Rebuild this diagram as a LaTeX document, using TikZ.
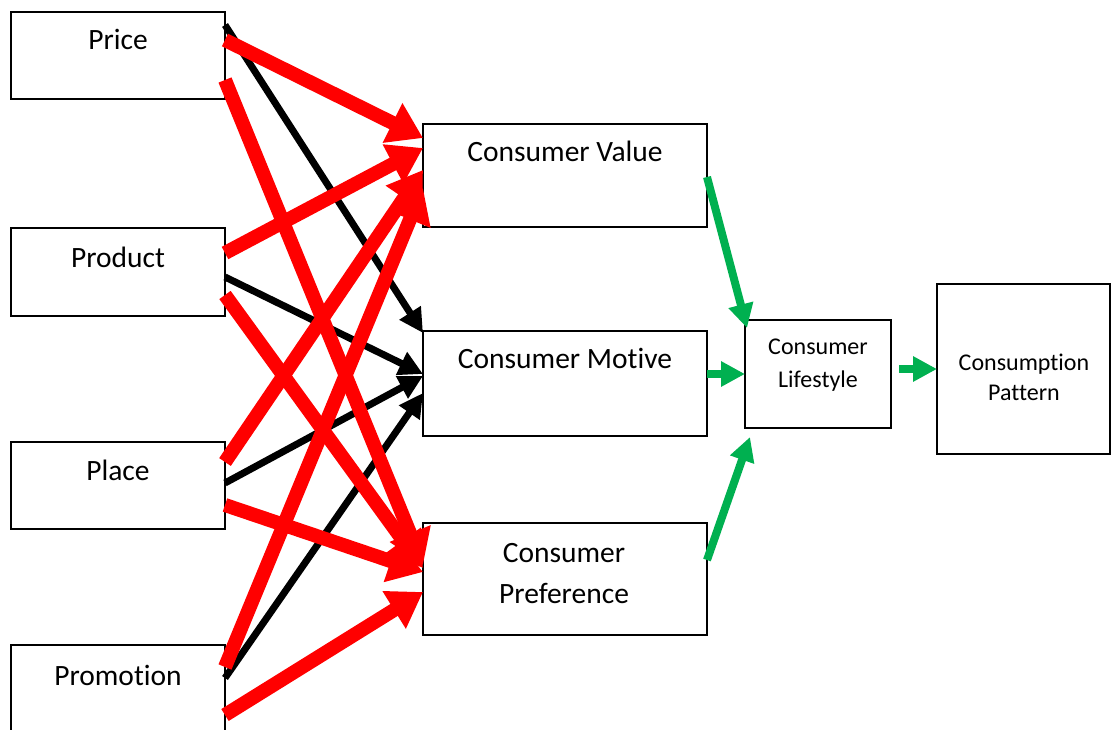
\documentclass[tikz,border=0pt]{standalone}
\usepackage{fontspec}
\setmainfont{Carlito}[Ligatures={NoCommon}]
\usetikzlibrary{arrows.meta,calc}
\definecolor{linkred}{RGB}{255,0,0}
\definecolor{linkgreen}{RGB}{0,176,80}
\begin{document}
\begin{tikzpicture}[x=1pt,y=-1pt,
  box/.style={draw=black, line width=2pt, anchor=north west, inner sep=0pt, outer sep=0pt},
  lbl/.style={anchor=base, align=center, inner sep=0pt, font=\fontsize{29.5}{41}\selectfont},
  slbl/.style={anchor=base, align=center, inner sep=0pt},
  redarr/.style={draw=linkred, line width=14pt, -{Triangle[length=34pt,width=42pt]}},
  blackarr/.style={draw=black, line width=7pt, -{Triangle[length=24pt,width=24pt]}},
  greenarr/.style={draw=linkgreen, line width=8pt, -{Triangle[length=24pt,width=24pt]}}
]
\useasboundingbox (0,0) rectangle (1113,730);

% marketing-mix boxes
\node[box, minimum width=214pt, minimum height=87pt] (price) at (11,12) {};
\node[box, minimum width=214pt, minimum height=88pt] (product) at (11,228) {};
\node[box, minimum width=214pt, minimum height=87pt] (place) at (11,442) {};
\node[box, minimum width=214pt, minimum height=120pt] (promo) at (11,645) {};

% consumer boxes
\node[box, minimum width=284pt, minimum height=103pt] (value) at (423,124) {};
\node[box, minimum width=284pt, minimum height=105pt] (motive) at (423,331) {};
\node[box, minimum width=284pt, minimum height=112pt] (pref) at (423,523) {};
\node[box, minimum width=146pt, minimum height=108pt] (life) at (745,320) {};
\node[box, minimum width=173pt, minimum height=170pt] (pattern) at (937,284) {};

% labels (two-line labels are placed by the baseline of their last line)
\node[lbl] (price-t) at (118,50) {Price};
\node[lbl] (product-t) at (118,267) {Product};
\node[lbl] (place-t) at (118,480) {Place};
\node[lbl] (promo-t) at (118,685) {Promotion};
\node[lbl] (value-t) at (565,162) {Consumer Value};
\node[lbl] (motive-t) at (565,368) {Consumer Motive};
\node[lbl] (pref-t) at (564,603) {Consumer\\Preference};
\node[slbl, font=\fontsize{24}{33}\selectfont] (life-t) at (818,387) {Consumer\\Lifestyle};
\node[slbl, font=\fontsize{24}{30}\selectfont] (pattern-t) at (1024,400) {Consumption\\Pattern};

% black links into Consumer Motive
\draw[blackarr] ([yshift=-13pt]price.north east) -- ([yshift=-2pt]motive.north west);
\draw[blackarr] ([yshift=-49pt]product.north east) -- ([yshift=-43pt]motive.north west);
\draw[blackarr] ([yshift=-41pt]place.north east) -- ([yshift=-45pt]motive.north west);
\draw[blackarr] ([yshift=-33pt]promo.north east) -- ([yshift=-62pt]motive.north west);

% red links into Consumer Value and Consumer Preference
\draw[redarr] ([yshift=-28pt]price.north east) -- ([yshift=-14pt]value.north west);
\draw[redarr] ([yshift=-68pt]price.north east) -- ([yshift=-42pt]pref.north west);
\draw[redarr] ([yshift=-25pt]product.north east) -- ([yshift=-24pt]value.north west);
\draw[redarr] ([yshift=-67pt]product.north east) -- ([yshift=-45pt]pref.north west);
\draw[redarr] ([yshift=-20pt]place.north east) -- ([yshift=-46pt]value.north west);
\draw[redarr] ([yshift=-63pt]place.north east) -- ([yshift=-49pt]pref.north west);
\draw[redarr] ([yshift=-22pt]promo.north east) -- ([yshift=-64pt]value.north west);
\draw[redarr] ([yshift=-70pt]promo.north east) -- ([yshift=-69pt]pref.north west);

% green links to lifestyle and pattern
\draw[greenarr] ([yshift=-53pt]value.north east) -- ([xshift=2pt,yshift=-8pt]life.north west);
\draw[greenarr] ([yshift=-43pt]motive.north east) -- ([yshift=-54pt]life.north west);
\draw[greenarr] ([yshift=-37pt]pref.north east) -- ([xshift=5pt,yshift=-9pt]life.south west);
\draw[greenarr] ([xshift=8pt,yshift=-49pt]life.north east) -- ([yshift=-85pt]pattern.north west);
\end{tikzpicture}
\end{document}
